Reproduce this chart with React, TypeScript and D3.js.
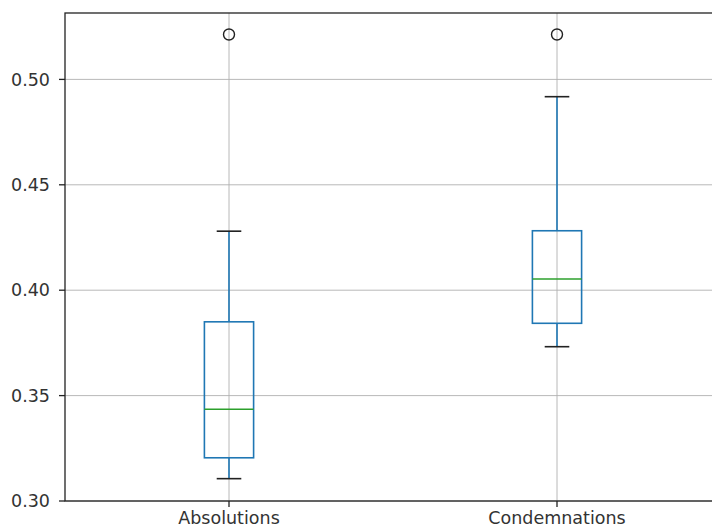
import React from 'react';
import * as d3 from 'd3';

// box stats
const categories = ['Absolutions', 'Condemnations'];
const whiskerLow = [0.3106, 0.3732];
const q1 = [0.3205, 0.3843];
const median = [0.3435, 0.4053];
const q3 = [0.385, 0.4282];
const whiskerHigh = [0.428, 0.4918];
const outliers = [[0.5213], [0.5213]];
const yTicks = [0.3, 0.35, 0.4, 0.45, 0.5];

const App = () => {
  const width = 712;
  const height = 528;
  const margin = { top: 13, left: 65, bottom: 27 };
  const plotRight = 721; // axes run past the picture edge

  const x = d3.scaleLinear().domain([0.5, 2.5]).range([margin.left, plotRight]);
  const y = d3.scaleLinear().domain([0.3, 0.5315]).range([height - margin.bottom, margin.top]);

  const boxHalf = (x(1.075) - x(1)); // matplotlib default width 0.15
  const capHalf = boxHalf / 2;
  const font = '"DejaVu Sans", sans-serif';
  const fontSize = 17.5;

  return (
    <svg width={width} height={height} style={{ position: 'fixed', left: 0, top: 0, background: '#fff' }}>
      {/* grid */}
      {yTicks.map(t => (
        <line key={'gy' + t} x1={margin.left} x2={plotRight} y1={y(t)} y2={y(t)} stroke="#b0b0b0" strokeWidth={0.9} />
      ))}
      {categories.map((c, i) => (
        <line key={'gx' + c} x1={x(i + 1)} x2={x(i + 1)} y1={margin.top} y2={y(0.3)} stroke="#b0b0b0" strokeWidth={0.9} />
      ))}

      {categories.map((c, i) => {
        const cx = x(i + 1);
        return (
          <g key={c}>
            <line x1={cx} x2={cx} y1={y(q3[i])} y2={y(whiskerHigh[i])} stroke="#1f77b4" strokeWidth={1.6} />
            <line x1={cx} x2={cx} y1={y(q1[i])} y2={y(whiskerLow[i])} stroke="#1f77b4" strokeWidth={1.6} />
            <line x1={cx - capHalf} x2={cx + capHalf} y1={y(whiskerHigh[i])} y2={y(whiskerHigh[i])} stroke="#222" strokeWidth={1.6} />
            <line x1={cx - capHalf} x2={cx + capHalf} y1={y(whiskerLow[i])} y2={y(whiskerLow[i])} stroke="#222" strokeWidth={1.6} />
            <rect x={cx - boxHalf} y={y(q3[i])} width={boxHalf * 2} height={y(q1[i]) - y(q3[i])}
              fill="none" stroke="#1f77b4" strokeWidth={1.6} />
            <line x1={cx - boxHalf} x2={cx + boxHalf} y1={y(median[i])} y2={y(median[i])} stroke="#2ca02c" strokeWidth={1.6} />
            {outliers[i].map((o, j) => (
              <circle key={j} cx={cx} cy={y(o)} r={5.5} fill="none" stroke="#222" strokeWidth={1.4} />
            ))}
          </g>
        );
      })}

      {/* spines */}
      <rect x={margin.left} y={margin.top} width={plotRight - margin.left} height={y(0.3) - margin.top}
        fill="none" stroke="#222" strokeWidth={1.3} />

      {/* y axis */}
      {yTicks.map(t => (
        <g key={'ty' + t}>
          <line x1={margin.left - 6} x2={margin.left} y1={y(t)} y2={y(t)} stroke="#222" strokeWidth={1.3} />
          <text x={margin.left - 15} y={y(t)} dy="0.35em" textAnchor="end" fontFamily={font} fontSize={fontSize} fill="#333">
            {d3.format('.2f')(t)}
          </text>
        </g>
      ))}

      {/* x axis */}
      {categories.map((c, i) => (
        <g key={'tx' + c}>
          <line x1={x(i + 1)} x2={x(i + 1)} y1={y(0.3)} y2={y(0.3) + 6} stroke="#222" strokeWidth={1.3} />
          <text x={x(i + 1)} y={height - 4} textAnchor="middle" fontFamily={font} fontSize={fontSize} fill="#333">
            {c}
          </text>
        </g>
      ))}
    </svg>
  );
};

export default App;
